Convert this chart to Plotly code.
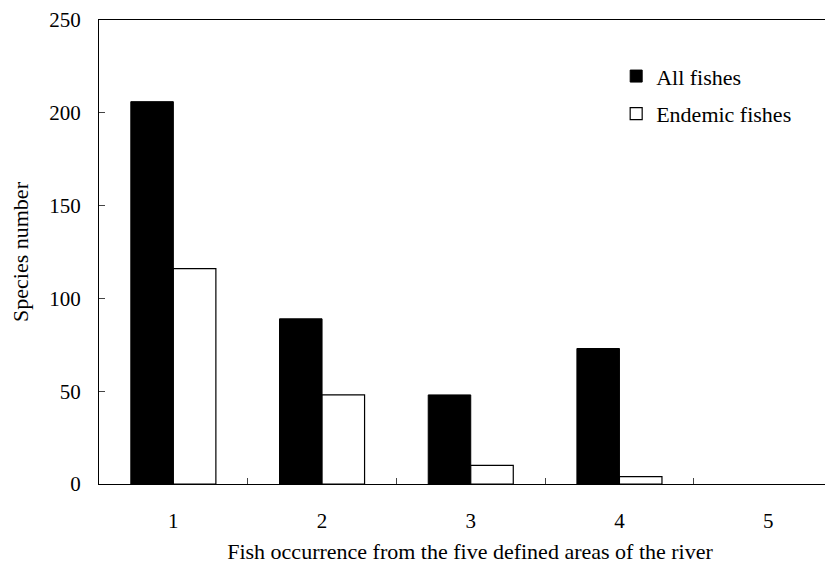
import plotly.graph_objects as go

categories = ["1", "2", "3", "4", "5"]
all_fishes = [206, 89, 48, 73, 0]
endemic_fishes = [116, 48, 10, 4, 0]
y_ticks = [0, 50, 100, 150, 200, 250]

FONT = "Liberation Serif, Times New Roman, serif"
x_pos = list(range(1, len(categories) + 1))
boundaries = [p + 0.5 for p in x_pos[:-1]]


def edge_widths(values, w):
    return [w if v > 0 else 0 for v in values]


fig = go.Figure()
fig.add_trace(go.Bar(
    x=x_pos, y=all_fishes, name="All fishes", legendgroup="a",
    marker=dict(color="black", line=dict(color="black", width=edge_widths(all_fishes, 1))),
))
fig.add_trace(go.Bar(
    x=x_pos, y=endemic_fishes, name="Endemic fishes", legendgroup="b",
    marker=dict(color="white", line=dict(color="black", width=edge_widths(endemic_fishes, 1.2))),
))

# the page body adds an 8px offset, so margins are reduced accordingly
fig.update_layout(
    width=833, height=563,
    margin=dict(l=91, r=0, t=12, b=87),
    paper_bgcolor="white", plot_bgcolor="white",
    barmode="group", bargap=0.428, bargroupgap=0,
    font=dict(family=FONT, size=21, color="black"),
    showlegend=True,
    legend=dict(
        x=0.697, y=0.924, xanchor="left", yanchor="top",
        bgcolor="rgba(0,0,0,0)", borderwidth=0,
        traceorder="grouped", tracegroupgap=6,
        font=dict(family=FONT, size=22, color="black"),
        itemwidth=30,
    ),
)

fig.update_xaxes(
    range=[0.5, 5.49],
    tickmode="array", tickvals=x_pos, ticktext=categories,
    showline=True, linecolor="black", linewidth=1.3, mirror=True,
    ticks="", showgrid=False, zeroline=False,
    ticklabelstandoff=18,
    tickfont=dict(family=FONT, size=21),
    minor=dict(tickmode="array", tickvals=boundaries,
               ticks="inside", ticklen=6, tickcolor="#444", tickwidth=1),
    title=dict(text="Fish occurrence from the five defined areas of the river",
               font=dict(family=FONT, size=22), standoff=11),
)
fig.update_yaxes(
    range=[0, 250], tickmode="array", tickvals=y_ticks,
    showline=True, linecolor="black", linewidth=1.3, mirror=False,
    ticks="inside", ticklen=6, tickcolor="#444", tickwidth=1,
    showgrid=False, zeroline=False,
    ticklabelstandoff=13,
    tickfont=dict(family=FONT, size=21),
    title=dict(text="Species number", font=dict(family=FONT, size=22), standoff=15),
)

fig.write_html("out.html")
